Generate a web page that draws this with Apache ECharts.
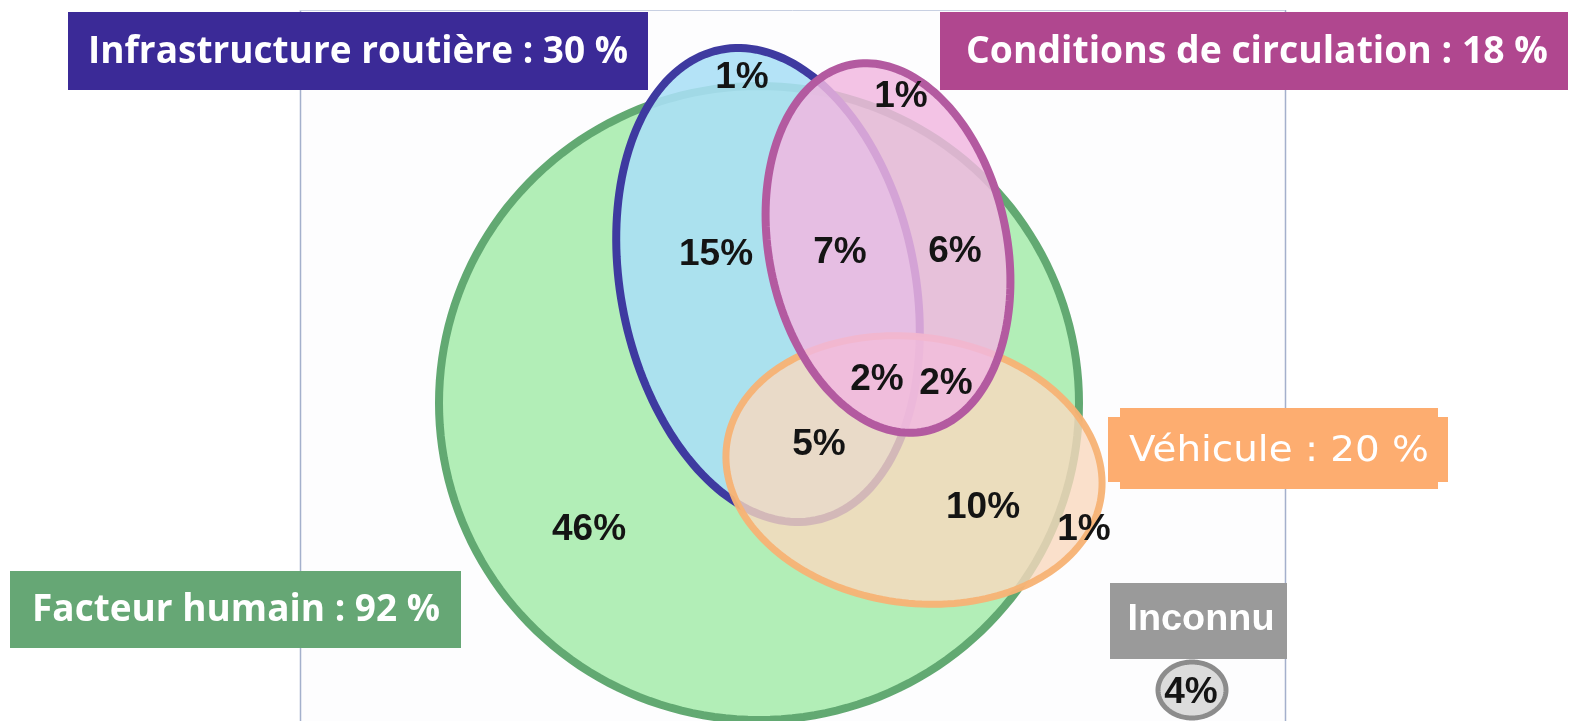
<!DOCTYPE html>
<html>
<head>
<meta charset="utf-8">
<script src="https://cdn.jsdelivr.net/npm/echarts@6/dist/echarts.min.js"></script>
<style>html,body{margin:0;padding:0;background:#fff;}#c{width:1571px;height:721px;}</style>
</head>
<body>
<div id="c"></div>
<script>
// ---- DATA ----
const setNames = ['Infrastructure routière', 'Conditions de circulation', 'Véhicule', 'Facteur humain', 'Inconnu'];
const setShares = [30, 18, 20, 92, null];
// region values (%), in order: infra only (outside human), conditions only (outside human),
// infra+human, infra+cond+human, cond+human, infra+cond+veh+human, cond+veh+human,
// infra+veh+human, veh+human, veh only, human only, unknown
const regionValues = [1, 1, 15, 7, 6, 2, 2, 5, 10, 1, 46, 4];

// ---- LAYOUT (pixel-like data space: x 0..1571, y 0..721 downward) ----
const shapes = [
  { cx: 759, cy: 403, rx: 320, ry: 317, rot: 0,   fill: 'rgba(178,238,183,1)',   stroke: '#62a972', lw: 8 },   // Facteur humain
  { cx: 768, cy: 285, rx: 147, ry: 240, rot: -11.5, fill: 'rgba(170,223,246,0.88)', stroke: '#3e3aa0', lw: 8 }, // Infrastructure
  { cx: 914, cy: 470, rx: 189, ry: 133, rot: 8,   fill: 'rgba(249,216,190,0.80)', stroke: 'rgba(247,178,116,0.95)', lw: 7 }, // Véhicule
  { cx: 888, cy: 248, rx: 119, ry: 187, rot: -11.5, fill: 'rgba(241,184,224,0.84)', stroke: '#b35aa0', lw: 8 }, // Conditions
  { cx: 1192, cy: 690, rx: 34, ry: 28, rot: 0, fill: '#dcdcdc', stroke: '#8c8c8c', lw: 5 }                      // Inconnu
];
const regionPos = [[742,78],[901,97],[716,255],[840,253],[955,252],[877,380],[946,384],[819,445],[983,508],[1084,530],[589,530],[1191,693]];

const boxes = [
  { set: 0, rects: [[68,12,580,78]], fill: '#3b2a97', font: 'bold 38px "Open Sans"', w: 540, x: 358, y: 52 },
  { set: 1, rects: [[940,12,628,78]], fill: '#b0478f', font: 'bold 38px "Open Sans"', w: 582, x: 1257, y: 52 },
  { set: 2, rects: [[1120,408,318,81],[1108,417,340,65]], fill: '#fdad70', font: '36px "DejaVu Sans"', w: 300, x: 1279, y: 452 },
  { set: 3, rects: [[10,571,451,77]], fill: '#66a775', font: 'bold 38px "Open Sans"', w: 408, x: 236, y: 610 },
  { set: 4, rects: [[1110,583,177,76]], fill: '#9a9a9a', font: 'bold 36px "Liberation Sans"', w: 147, x: 1201, y: 620 }
];

const mctx = document.createElement('canvas').getContext('2d');
function fit(text, font, w) { mctx.font = font; const m = mctx.measureText(text).width; return m > 0 ? w / m : 1; }

function boxText(i) {
  return setShares[i] == null ? setNames[i] : setNames[i] + ' : ' + setShares[i] + ' %';
}

const chart = echarts.init(document.getElementById('c'), null, { renderer: 'canvas' });

const graphics = [];
// panel
graphics.push({ type: 'rect', z: -10, shape: { x: 300, y: 10, width: 985, height: 720 }, style: { fill: '#fdfdfe', stroke: null } });
graphics.push({ type: 'line', z: -9, shape: { x1: 300.5, y1: 10, x2: 300.5, y2: 721 }, style: { stroke: '#a4b0cc', lineWidth: 1.5 } });
graphics.push({ type: 'line', z: -9, shape: { x1: 1285.5, y1: 10, x2: 1285.5, y2: 721 }, style: { stroke: '#a4b0cc', lineWidth: 1.5 } });
graphics.push({ type: 'line', z: -9, shape: { x1: 300, y1: 10.5, x2: 1285, y2: 10.5 }, style: { stroke: '#c8d0e2', lineWidth: 1 } });
boxes.forEach(b => {
  b.rects.forEach(r => graphics.push({ type: 'rect', z: 100, shape: { x: r[0], y: r[1], width: r[2], height: r[3] }, style: { fill: b.fill } }));
  const t = boxText(b.set);
  graphics.push({ type: 'text', z: 101, x: b.x, y: b.y, scaleX: fit(t, b.font, b.w), style: { text: t, font: b.font, fill: '#ffffff', align: 'center', verticalAlign: 'middle' } });
});

function ellipseSeries(s, idx) {
  return {
    type: 'custom',
    z: 2 + idx,
    silent: true,
    data: [[s.cx, s.cy]],
    renderItem: function (params, api) {
      const pts = [];
      const phi = s.rot * Math.PI / 180;
      const cx = api.value(0), cy = api.value(1);
      for (let k = 0; k < 180; k++) {
        const t = k / 180 * Math.PI * 2;
        const lx = s.rx * Math.cos(t), ly = s.ry * Math.sin(t);
        const x = cx + lx * Math.cos(phi) - ly * Math.sin(phi);
        const y = cy + lx * Math.sin(phi) + ly * Math.cos(phi);
        pts.push(api.coord([x, y]));
      }
      return { type: 'polygon', shape: { points: pts }, style: { fill: s.fill, stroke: s.stroke, lineWidth: s.lw } };
    }
  };
}

const series = shapes.map(ellipseSeries);
series.push({
  type: 'scatter',
  z: 20,
  symbolSize: 1,
  silent: true,
  itemStyle: { opacity: 0 },
  data: regionValues.map((v, i) => [regionPos[i][0], regionPos[i][1], v]),
  label: {
    show: true,
    position: 'inside',
    formatter: p => p.value[2] + '%',
    fontFamily: '"Liberation Sans", Arial, sans-serif',
    fontWeight: 'bold',
    fontSize: 37,
    color: '#141414',
    opacity: 1
  }
});

chart.setOption({
  animation: false,
  backgroundColor: '#ffffff',
  grid: { left: 0, right: 0, top: 0, bottom: 0 },
  xAxis: { type: 'value', min: 0, max: 1571, show: false },
  yAxis: { type: 'value', min: 0, max: 721, inverse: true, show: false },
  graphic: graphics,
  series: series
});
</script>
</body>
</html>
